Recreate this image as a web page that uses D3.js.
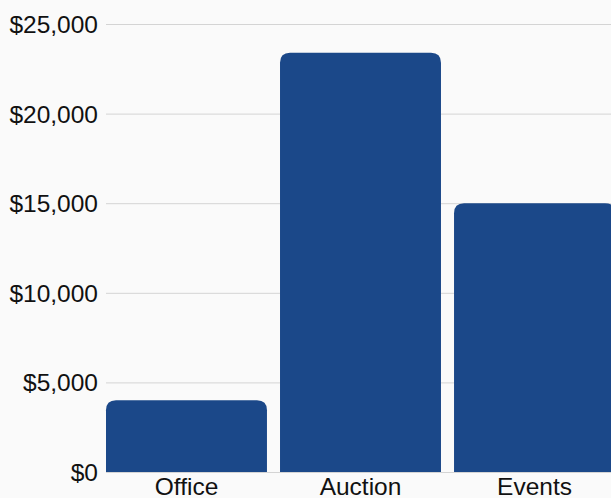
<!DOCTYPE html>
<html><head><meta charset="utf-8">
<script src="https://cdn.jsdelivr.net/npm/d3@7"></script>
<style>
html,body{margin:0;padding:0;background:#fafafa;overflow:hidden;}
text{font-family:"Liberation Sans",Arial,sans-serif;}
</style></head>
<body><svg id="c" width="611" height="498"></svg>
<script>
const categories = ["Office", "Auction", "Events"];
const values = [4000, 23400, 15000];
const yTicks = [0, 5000, 10000, 15000, 20000, 25000];

(function () {
const svg = d3.select("#c");
const W = 611, H = 498;
const mLeft = 106, mTop = 24, mBottom = 472, rightEdge = 615;
svg.append("rect").attr("width", W).attr("height", H).attr("fill", "#fafafa");

const x = d3.scaleBand().domain(categories).range([mLeft, rightEdge]).paddingInner(0.075).paddingOuter(0);
const y = d3.scaleLinear().domain([0, 25000]).range([mBottom, mTop]);

const fmt = d => "$" + d3.format(",")(d);
const ya = svg.append("g").attr("transform", `translate(${mLeft},0)`)
  .call(d3.axisLeft(y).tickValues(yTicks).tickFormat(fmt).tickSizeInner(-(W - mLeft)).tickSizeOuter(0).tickPadding(8));
ya.select(".domain").remove();
ya.selectAll(".tick line").attr("stroke", "#d4d4d4").attr("stroke-width", 1);
ya.selectAll("text").attr("fill", "#111").style("font-size", "24.5px").attr("dy", "0.35em");

const r = 10;
function barPath(d, i) {
  const x0 = x(d), x1 = x(d) + x.bandwidth(), y0 = y(values[i]), yb = y(0);
  return `M${x0},${yb}V${y0 + r}Q${x0},${y0} ${x0 + r},${y0}H${x1 - r}Q${x1},${y0} ${x1},${y0 + r}V${yb}Z`;
}
svg.append("g").selectAll("path").data(categories).join("path")
  .attr("d", barPath).attr("fill", "#1b4889");

const xa = svg.append("g").attr("transform", `translate(0,${mBottom})`)
  .call(d3.axisBottom(x).tickSize(0).tickPadding(5.5));
xa.select(".domain").remove();
xa.selectAll("text").attr("fill", "#111").style("font-size", "24.5px");
})();
</script></body></html>
